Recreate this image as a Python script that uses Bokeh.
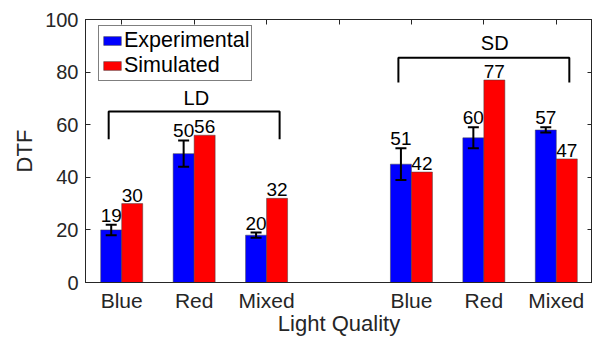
import numpy as np
from bokeh.plotting import figure
from bokeh.models import Range1d, LinearAxis, FixedTicker, Whisker, TeeHead, ColumnDataSource, Legend, LegendItem
from bokeh.core.properties import value
from bokeh.embed import file_html
from bokeh.resources import INLINE

# ---- data ----
photoperiods = ["LD", "LD", "LD", "SD", "SD", "SD"]
qualities = ["Blue", "Red", "Mixed", "Blue", "Red", "Mixed"]
experimental = [20, 49, 18, 45, 55, 58]
experimental_err = [2, 5, 1, 6, 4, 1]
simulated = [30, 56, 32, 42, 77, 47]
experimental_labels = ["19", "50", "20", "51", "60", "57"]
simulated_labels = ["30", "56", "32", "42", "77", "47"]
group_names = ["LD", "SD"]
bracket_top = [65, 85.5]
bracket_leg = [54.5, 76]
group_text_y = [70, 91]
y_ticks = [0, 20, 40, 60, 80, 100]

FONT = "Liberation Sans"
AX = "#262626"

# positions: groups of three with one empty slot between groups
pos = np.array([i + 1 + (i // 3) for i in range(len(qualities))], dtype=float)
bw = 0.29
x_exp = pos - bw / 2
x_sim = pos + bw / 2

p = figure(width=592, height=338, output_backend="svg", toolbar_location=None,
           x_range=Range1d(0.5, 7.5), y_range=Range1d(0, 100),
           min_border_left=85, min_border_right=0, min_border_top=19, min_border_bottom=55)
p.grid.visible = False
p.outline_line_color = AX
p.outline_line_width = 1
p.background_fill_color = "white"
p.border_fill_color = "white"

src = ColumnDataSource(dict(x_exp=x_exp, x_sim=x_sim, exp=experimental, sim=simulated,
                            lo=np.array(experimental) - np.array(experimental_err),
                            hi=np.array(experimental) + np.array(experimental_err),
                            exp_lab=experimental_labels, sim_lab=simulated_labels))

r_exp = p.vbar(x="x_exp", top="exp", width=bw, source=src, fill_color="#0000FF",
               line_color="#404040", line_width=0.5)
r_sim = p.vbar(x="x_sim", top="sim", width=bw, source=src, fill_color="#FF0000",
               line_color="#404040", line_width=0.5)

wh = Whisker(base="x_exp", lower="lo", upper="hi", source=src, line_color="black", line_width=2,
             level="overlay",
             upper_head=TeeHead(size=11, line_color="black", line_width=2),
             lower_head=TeeHead(size=11, line_color="black", line_width=2))
p.add_layout(wh)

p.text(x="x_exp", y="hi", text="exp_lab", source=src, text_align="center",
       text_baseline="bottom", y_offset=-3, text_font=value(FONT),
       text_font_size="19px", text_color="black")
p.text(x="x_sim", y="sim", text="sim_lab", source=src, text_align="center",
       text_baseline="bottom", y_offset=-2, text_font=value(FONT),
       text_font_size="19px", text_color="black")

# group brackets
bx, by, tx = [], [], []
for gi, g in enumerate(group_names):
    gp = pos[[i for i, n in enumerate(photoperiods) if n == g]]
    x0, x1 = gp.min() - 0.18, gp.max() + 0.18
    bx.append([x0, x0, x1, x1])
    by.append([bracket_leg[gi], bracket_top[gi], bracket_top[gi], bracket_leg[gi]])
    tx.append(gp.mean() + (0.03 if g == "LD" else 0.15))
p.multi_line(xs=bx, ys=by, line_color="black", line_width=2)
p.text(x=tx, y=group_text_y, text=group_names, text_align="center", text_baseline="middle",
       text_font=value(FONT), text_font_size="20px", text_color="black")

# axes
xa = p.xaxis[0]
xa.ticker = FixedTicker(ticks=list(pos))
xa.major_label_overrides = {float(x): q for x, q in zip(pos, qualities)}
xa.major_tick_in = 0
xa.major_tick_out = 0
xa.minor_tick_line_color = None
xa.axis_line_color = AX
xa.major_label_text_font = FONT
xa.major_label_text_font_size = "21px"
xa.major_label_text_color = AX
xa.major_label_standoff = 6
xa.axis_label = "Light Quality"
xa.axis_label_text_font = FONT
xa.axis_label_text_font_size = "22px"
xa.axis_label_text_font_style = "normal"
xa.axis_label_text_color = AX
xa.axis_label_standoff = -4

ya = p.yaxis[0]
ya.ticker = FixedTicker(ticks=y_ticks)
ya.major_tick_in = 5
ya.major_tick_out = 0
ya.major_tick_line_color = AX
ya.minor_tick_line_color = None
ya.axis_line_color = AX
ya.major_label_text_font = FONT
ya.major_label_text_font_size = "20px"
ya.major_label_text_color = AX
ya.major_label_standoff = 7
ya.axis_label = "DTF"
ya.axis_label_text_font = FONT
ya.axis_label_text_font_size = "22px"
ya.axis_label_text_font_style = "normal"
ya.axis_label_text_color = AX
ya.axis_label_standoff = 5

top = LinearAxis(ticker=FixedTicker(ticks=list(np.arange(1, 8))), major_tick_in=5, major_tick_out=0,
                 minor_tick_line_color=None, axis_line_color=AX, major_tick_line_color=AX,
                 major_label_text_font_size="6px", major_label_standoff=0,
                 major_label_overrides={int(i): "" for i in range(1, 8)})
p.add_layout(top, "above")
right = LinearAxis(ticker=FixedTicker(ticks=y_ticks), major_tick_in=5, major_tick_out=0,
                   minor_tick_line_color=None, axis_line_color=AX, major_tick_line_color=AX,
                   major_label_text_font_size="6px", major_label_standoff=0,
                   major_label_overrides={int(t): "" for t in y_ticks})
p.add_layout(right, "right")

legend = Legend(items=[LegendItem(label="Experimental", renderers=[r_exp]),
                       LegendItem(label="Simulated", renderers=[r_sim])],
                location=(13, 201), glyph_width=22, glyph_height=11, label_standoff=1,
                label_text_font=FONT, label_text_font_size="21.5px", label_text_color="black",
                label_height=18, spacing=-8, padding=2, margin=0,
                border_line_color="black", border_line_width=1, background_fill_alpha=1)
p.add_layout(legend)

open("out.html", "w").write(file_html(p, INLINE))
